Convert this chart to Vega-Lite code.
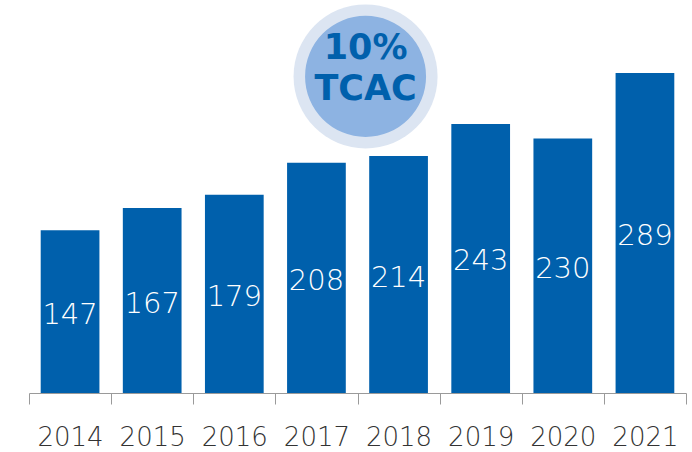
{
  "$schema": "https://vega.github.io/schema/vega-lite/v6.json",
  "autosize": "none",
  "width": 657,
  "height": 393,
  "padding": {"left": 29, "top": 0, "right": 6, "bottom": 59},
  "background": "white",
  "config": {"view": {"stroke": null}},
  "layer": [
    {
      "data": {"values": [
        {"year": "2014", "value": 147},
        {"year": "2015", "value": 167},
        {"year": "2016", "value": 179},
        {"year": "2017", "value": 208},
        {"year": "2018", "value": 214},
        {"year": "2019", "value": 243},
        {"year": "2020", "value": 230},
        {"year": "2021", "value": 289}
      ]},
      "layer": [
        {
          "mark": {"type": "bar", "color": "#0060AC", "width": {"band": 0.715}},
          "encoding": {
            "x": {"field": "year", "type": "nominal", "scale": {"paddingInner": 0, "paddingOuter": 0},
              "axis": {"title": null, "labelAngle": 0, "labelFont": "DejaVu Sans Light, Open Sans", "labelFontWeight": 300, "labelFontSize": 26, "labelColor": "#333333", "domainColor": "#9a9a9a", "tickColor": "#9a9a9a", "tickSize": 11, "tickBand": "extent", "labelPadding": 20, "grid": false}},
            "y": {"field": "value", "type": "quantitative", "scale": {"domain": [0, 355]}, "axis": null}
          }
        },
        {
          "mark": {"type": "text", "color": "white", "font": "DejaVu Sans Light, Open Sans", "fontWeight": 300, "fontSize": 29, "baseline": "middle", "dy": 3},
          "encoding": {
            "x": {"field": "year", "type": "nominal"},
            "y": {"field": "value", "type": "quantitative", "scale": {"domain": [0, 710]}, "axis": null},
            "text": {"field": "value", "type": "nominal"}
          }
        }
      ],
      "resolve": {"scale": {"y": "independent"}}
    },
    {
      "data": {"values": [{"year": "2018", "pos": 286, "l1": "10%", "l2": "TCAC", "p1": 301.6, "p2": 264.6}]},
      "layer": [
        {
          "mark": {"type": "point", "shape": "circle", "filled": true, "color": "#DCE5F2", "opacity": 1, "size": 20736, "xOffset": -33},
          "encoding": {
            "x": {"field": "year", "type": "nominal"},
            "y": {"field": "pos", "type": "quantitative", "scale": {"domain": [0, 355]}, "axis": null}
          }
        },
        {
          "mark": {"type": "point", "shape": "circle", "filled": true, "color": "#8DB3E2", "opacity": 1, "size": 14641, "xOffset": -33},
          "encoding": {
            "x": {"field": "year", "type": "nominal"},
            "y": {"field": "pos", "type": "quantitative", "scale": {"domain": [0, 355]}, "axis": null}
          }
        },
        {
          "mark": {"type": "text", "color": "#0060AC", "font": "DejaVu Sans", "fontWeight": "bold", "fontSize": 35, "baseline": "alphabetic", "xOffset": -33},
          "encoding": {
            "x": {"field": "year", "type": "nominal"},
            "y": {"field": "p1", "type": "quantitative", "scale": {"domain": [0, 355]}, "axis": null},
            "text": {"field": "l1"}
          }
        },
        {
          "mark": {"type": "text", "color": "#0060AC", "font": "DejaVu Sans", "fontWeight": "bold", "fontSize": 35, "baseline": "alphabetic", "xOffset": -33},
          "encoding": {
            "x": {"field": "year", "type": "nominal"},
            "y": {"field": "p2", "type": "quantitative", "scale": {"domain": [0, 355]}, "axis": null},
            "text": {"field": "l2"}
          }
        }
      ]
    }
  ]
}
